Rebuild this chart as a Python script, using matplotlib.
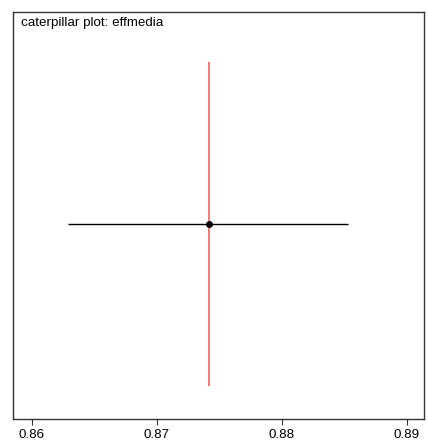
import matplotlib
matplotlib.use("Agg")
import matplotlib.pyplot as plt

# caterpillar plot values
param_names = ["effmedia"]
param_means = [0.87416]
param_lower = [0.86288]
param_upper = [0.88528]
ref_value = 0.87416          # red reference line
ref_span = (0.2, 1.8)        # vertical extent of the reference line
xticks = [0.86, 0.87, 0.88, 0.89]

plt.rcParams['font.family'] = ['Liberation Sans', 'DejaVu Sans']

fig = plt.figure(figsize=(4.28, 4.43), dpi=100)
ax = fig.add_axes([13 / 428, (443 - 419) / 443, (424 - 13) / 428, (419 - 11.5) / 443])

ypos = [1 + i for i in range(len(param_names))]

# reference line
ax.vlines(ref_value, ref_span[0], ref_span[1], color='#f8605a', linewidth=1.2, zorder=1)

# intervals and means
ax.hlines(ypos, param_lower, param_upper, color='black', linewidth=1.0, zorder=2)
ax.plot(param_means, ypos, 'o', color='black', markersize=4, zorder=3)

ax.set_xlim(0.85848, 0.89136)
ax.set_ylim(0.039, 2.047)
ax.set_xticks(xticks)
ax.set_xticklabels([f"{t:.2f}" for t in xticks])
ax.set_yticks([])
ax.tick_params(axis='x', length=4, width=0.8, pad=3.5, labelsize=9.6,
               colors='#333333', labelcolor='black')
for s in ax.spines.values():
    s.set_color('#333333')
    s.set_linewidth(1.0)

ax.text(0.02, 0.987, "caterpillar plot: " + param_names[0], transform=ax.transAxes,
        ha='left', va='top', fontsize=9.6)

fig.savefig("out.png", dpi=100)
